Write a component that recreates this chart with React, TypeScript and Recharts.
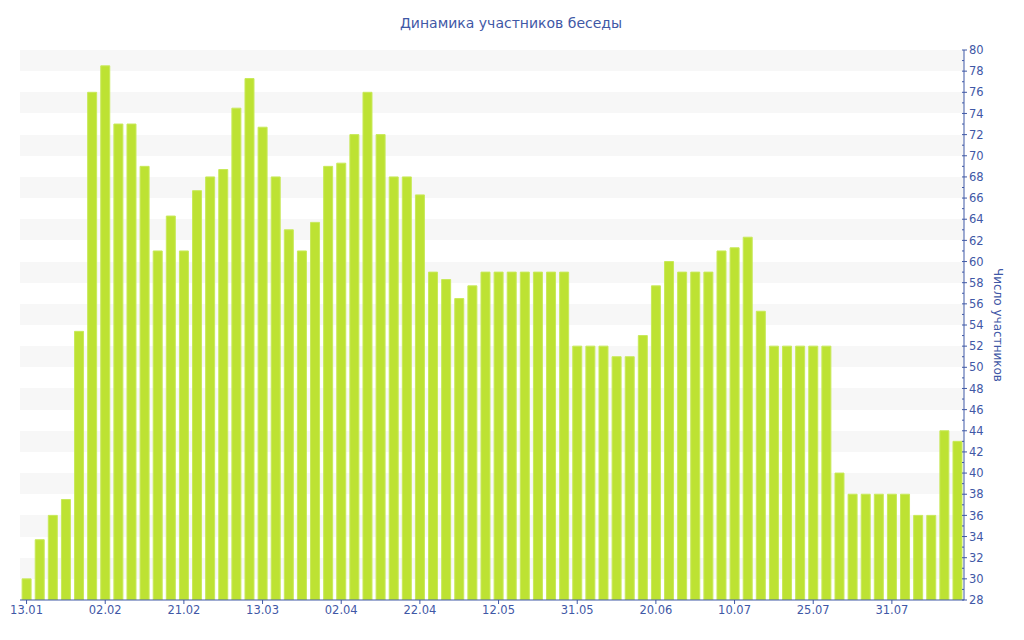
import React from "react";
import { BarChart, Bar, XAxis, YAxis, CartesianGrid, Label } from "recharts";

const values: number[] = [
  30, 33.7, 36, 37.5, 53.4, 76, 78.5, 73, 73, 69, 61, 64.3,
  61, 66.7, 68, 68.7, 74.5, 77.3, 72.7, 68, 63, 61, 63.7, 69,
  69.3, 72, 76, 72, 68, 68, 66.3, 59, 58.3, 56.5, 57.7, 59,
  59, 59, 59, 59, 59, 59, 52, 52, 52, 51, 51, 53,
  57.7, 60, 59, 59, 59, 61, 61.3, 62.3, 55.3, 52, 52, 52,
  52, 52, 40, 38, 38, 38, 38, 38, 36, 36, 44, 43,
];

const tickLabels: string[] = [
  "13.01", "02.02", "21.02", "13.03", "02.04", "22.04",
  "12.05", "31.05", "20.06", "10.07", "25.07", "31.07",
];
const tickEvery = 6;

const yMin = 28;
const yMax = 80;
const yTicks: number[] = [];
for (let v = yMin; v <= yMax; v++) yTicks.push(v);
const bandTicks = yTicks.filter((v) => v % 2 === 0);

const title = "Динамика участников беседы";
const yTitle = "Число участников";

const BLUE = "#3f58a6";
const FONT = "'DejaVu Sans', Verdana, sans-serif";

const data = values.map((v, i) => ({ i, v }));
const xTicks = tickLabels.map((_, k) => k * tickEvery);

const YTick = (props: any) => {
  const { x, y, payload } = props;
  const val = payload.value as number;
  const major = val % 2 === 0;
  return (
    <g>
      <line x1={x - 2} x2={major ? x + 3 : x} y1={y} y2={y} stroke={BLUE} strokeWidth={1} />
      {major && (
        <text x={x + 5} y={y} dy="0.36em" textAnchor="start" fill={BLUE} fontSize={11.5} fontFamily={FONT}>
          {val}
        </text>
      )}
    </g>
  );
};

const bandGenerator = (args: any) => {
  const { yAxis, offset } = args || {};
  if (yAxis && typeof yAxis.scale === "function") {
    return bandTicks.map((t) => yAxis.scale(t));
  }
  const top = offset?.top ?? 50;
  const h = offset?.height ?? 550;
  return bandTicks.map((t) => Math.round(top + ((yMax - t) / (yMax - yMin)) * h));
};

export default function App() {
  return (
    <div style={{ position: "absolute", left: 0, top: 0, width: 1024, height: 640, background: "#fff", fontFamily: FONT }}>
      <svg style={{ position: "absolute", left: 0, top: 0 }} width={1024} height={40}>
        <text x={511} y={28} textAnchor="middle" fill={BLUE} fontSize={14} fontFamily={FONT}>
          {title}
        </text>
      </svg>
      <BarChart
        width={1024}
        height={640}
        data={data}
        margin={{ top: 50, left: 20, right: 0, bottom: 0 }}
        barCategoryGap="16%"
      >
        <CartesianGrid
          vertical={false}
          horizontal={true}
          stroke="transparent"
          strokeOpacity={0}
          horizontalFill={["#f7f7f7", "#ffffff"]}
          horizontalCoordinatesGenerator={bandGenerator}
        />
        <XAxis
          dataKey="i"
          type="category"
          ticks={xTicks}
          interval={0}
          tickFormatter={(i: number) => tickLabels[i / tickEvery]}
          height={40}
          axisLine={{ stroke: BLUE }}
          tickLine={{ stroke: BLUE }}
          tickSize={4}
          tickMargin={2}
          tick={{ fill: BLUE, fontSize: 11.5, fontFamily: FONT }}
        />
        <YAxis
          orientation="right"
          domain={[yMin, yMax]}
          ticks={yTicks}
          interval={0}
          allowDataOverflow
          width={60}
          axisLine={{ stroke: BLUE }}
          tickLine={false}
          tickSize={0}
          tickMargin={0}
          tick={<YTick />}
        >
          <Label
            content={(p: any) => {
              const vb = p.viewBox || {};
              const cx = vb.x + 34;
              const cy = vb.y + vb.height / 2;
              return (
                <text
                  x={cx}
                  y={cy}
                  transform={`rotate(90 ${cx} ${cy})`}
                  textAnchor="middle"
                  dominantBaseline="central"
                  fill={BLUE}
                  fontSize={12}
                  fontFamily={FONT}
                >
                  {yTitle}
                </text>
              );
            }}
          />
        </YAxis>
        <Bar dataKey="v" fill="#bde233" stroke="#c8e95a" strokeWidth={1} isAnimationActive={false} />
      </BarChart>
    </div>
  );
}
